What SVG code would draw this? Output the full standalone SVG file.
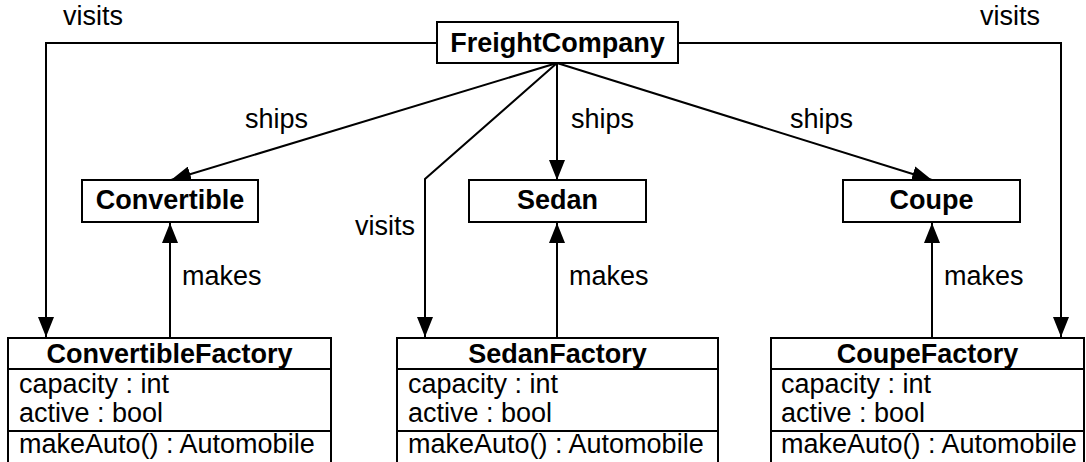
<svg xmlns="http://www.w3.org/2000/svg" width="1086" height="462" viewBox="0 0 1086 462">
<style>
.box{fill:#fff;stroke:#000;stroke-width:2}
.ln{fill:none;stroke:#000;stroke-width:2}
.b{font-family:"Liberation Sans",Arial,sans-serif;font-weight:bold;font-size:27px;text-anchor:middle}
.t{font-family:"Liberation Sans",Arial,sans-serif;font-size:27px}
</style>
<defs>
<marker id="arr" markerWidth="20" markerHeight="16" refX="20" refY="8" orient="auto" markerUnits="userSpaceOnUse">
<path d="M0,0 L20,8 L0,16 Z" fill="#000"/>
</marker>
</defs>
<g id="connectors">
<polyline class="ln" points="437,43 46,43 46,337" marker-end="url(#arr)"/>
<polyline class="ln" points="678,43 1061,43 1061,337" marker-end="url(#arr)"/>
<polyline class="ln" points="557,63 425,179 425,337" marker-end="url(#arr)"/>
<line class="ln" x1="557" y1="63" x2="171" y2="180" marker-end="url(#arr)"/>
<line class="ln" x1="557" y1="63" x2="557" y2="180" marker-end="url(#arr)"/>
<line class="ln" x1="557" y1="63" x2="932" y2="180" marker-end="url(#arr)"/>
<line class="ln" x1="170" y1="338" x2="170" y2="223" marker-end="url(#arr)"/>
<line class="ln" x1="557" y1="338" x2="557" y2="223" marker-end="url(#arr)"/>
<line class="ln" x1="932" y1="338" x2="932" y2="223" marker-end="url(#arr)"/>
<text class="t" x="63" y="25">visits</text>
<text class="t" x="980" y="25">visits</text>
<text class="t" x="355" y="235">visits</text>
<text class="t" x="245" y="128">ships</text>
<text class="t" x="571" y="128">ships</text>
<text class="t" x="790" y="128">ships</text>
<text class="t" x="182" y="285">makes</text>
<text class="t" x="569" y="285">makes</text>
<text class="t" x="944" y="285">makes</text>
</g>
<g id="FreightCompany">
<rect class="box" x="437" y="22" width="241" height="41"/>
<text class="b" x="557.5" y="52">FreightCompany</text>
</g>
<g id="Convertible">
<rect class="box" x="82" y="180" width="176" height="42"/>
<text class="b" x="170" y="209">Convertible</text>
</g>
<g id="Sedan">
<rect class="box" x="469" y="180" width="177" height="42"/>
<text class="b" x="557.5" y="209">Sedan</text>
</g>
<g id="Coupe">
<rect class="box" x="843" y="180" width="177" height="42"/>
<text class="b" x="931.5" y="209">Coupe</text>
</g>
<g id="ConvertibleFactory">
<rect class="box" x="8" y="338" width="323" height="140"/>
<line class="ln" x1="8" y1="369" x2="331" y2="369"/>
<line class="ln" x1="8" y1="431" x2="331" y2="431"/>
<text class="b" x="169.5" y="363">ConvertibleFactory</text>
<text class="t" x="19" y="393">capacity : int</text>
<text class="t" x="19" y="422">active : bool</text>
<text class="t" x="19" y="453">makeAuto() : Automobile</text>
</g>
<g id="SedanFactory">
<rect class="box" x="397" y="338" width="321" height="140"/>
<line class="ln" x1="397" y1="369" x2="718" y2="369"/>
<line class="ln" x1="397" y1="431" x2="718" y2="431"/>
<text class="b" x="557.5" y="363">SedanFactory</text>
<text class="t" x="408" y="393">capacity : int</text>
<text class="t" x="408" y="422">active : bool</text>
<text class="t" x="408" y="453">makeAuto() : Automobile</text>
</g>
<g id="CoupeFactory">
<rect class="box" x="771" y="338" width="313" height="140"/>
<line class="ln" x1="771" y1="369" x2="1084" y2="369"/>
<line class="ln" x1="771" y1="431" x2="1084" y2="431"/>
<text class="b" x="927.5" y="363">CoupeFactory</text>
<text class="t" x="781" y="393">capacity : int</text>
<text class="t" x="781" y="422">active : bool</text>
<text class="t" x="781" y="453">makeAuto() : Automobile</text>
</g>
</svg>
